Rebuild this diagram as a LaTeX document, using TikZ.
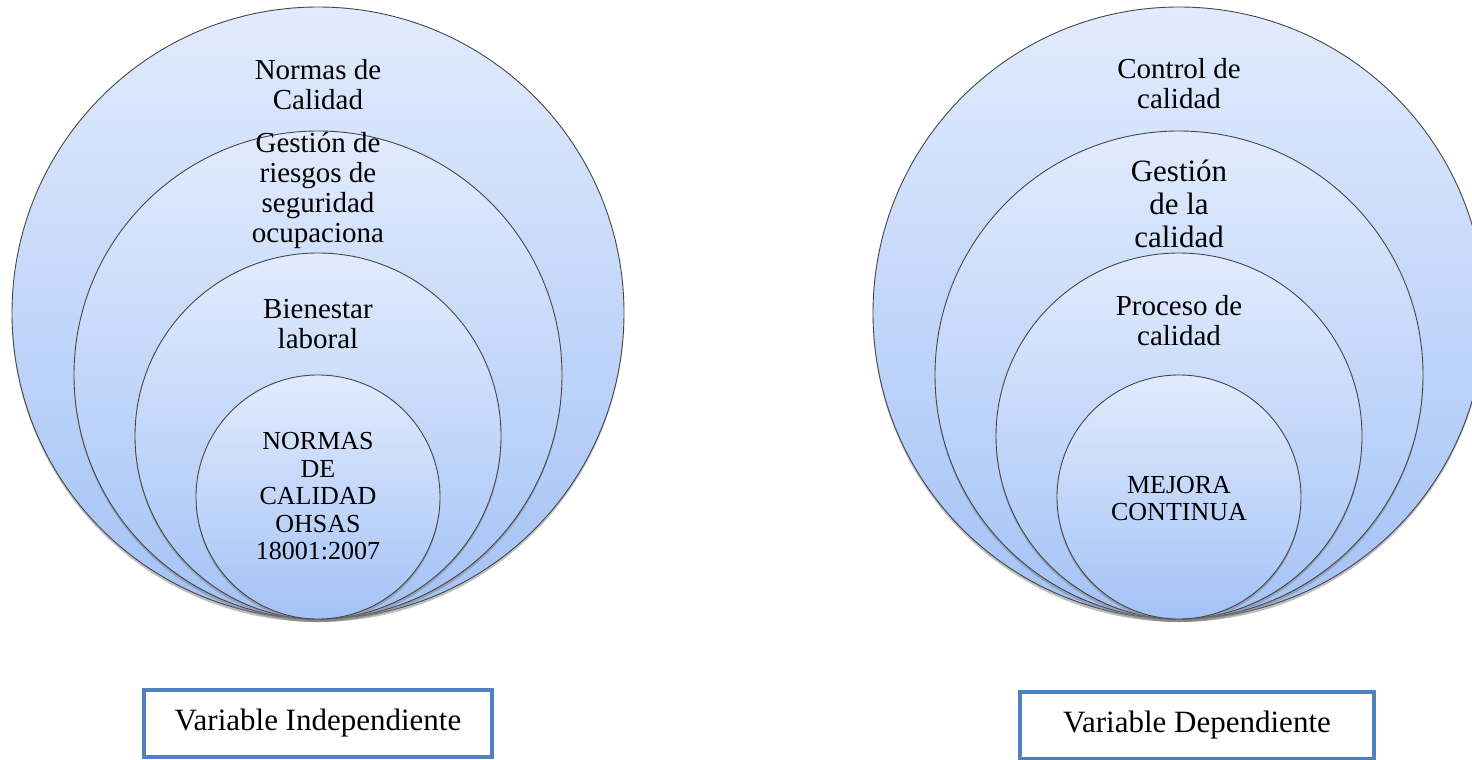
\documentclass[tikz,border=0pt]{standalone}
\usepackage{fontspec}
\setmainfont{Liberation Serif}
\usetikzlibrary{shadows}
\definecolor{gtop}{RGB}{225,235,253}
\definecolor{gbot}{RGB}{164,194,246}
\definecolor{boxblue}{RGB}{79,129,189}
\definecolor{ringline}{RGB}{70,70,70}
\tikzset{
  ring/.style={circle, inner sep=0pt, minimum size=#1, draw=ringline, line width=0.9pt,
    top color=gtop, bottom color=gbot,
    drop shadow={shadow xshift=0pt, shadow yshift=-3pt, opacity=0.5}},
  lbl/.style={align=center, inner sep=0pt, anchor=north, font=\fontsize{29}{30}\selectfont},
  lblbig/.style={lbl, font=\fontsize{31}{33}\selectfont},
  lblsmall/.style={lbl, font=\fontsize{26}{27.5}\selectfont},
  varbox/.style={draw=boxblue, line width=4pt, fill=white, inner sep=0pt,
    minimum height=67pt, font=\fontsize{31}{33}\selectfont}
}
\begin{document}
\begin{tikzpicture}[x=1pt,y=-1pt]
\useasboundingbox (0,0) rectangle (1472,760);
\begin{scope}
\clip (0,0) rectangle (1472,760);
% left set
\node[ring=612pt] (lo1) at (318,313) {};
\node[ring=488pt] (lo2) at (318,375) {};
\node[ring=366pt] (lo3) at (318,436) {};
\node[ring=244pt] (lo4) at (318,497) {};
% right set
\node[ring=612pt] (ro1) at (1179,313) {};
\node[ring=488pt] (ro2) at (1179,375) {};
\node[ring=366pt] (ro3) at (1179,436) {};
\node[ring=244pt] (ro4) at (1179,497) {};
\end{scope}
% left labels
\node[lbl] (l1) at (318,58) {\strut Normas de\\Calidad};
\node[lbl] (l2) at (318,131) {\strut Gestión de\\riesgos de\\seguridad\\ocupaciona};
\node[lbl] (l3) at (318,297) {\strut Bienestar\\laboral};
\node[lblsmall] (l4) at (318,430.5) {\strut NORMAS\\DE\\CALIDAD\\OHSAS\\18001:2007};
% right labels
\node[lbl] (r1) at (1179,57) {\strut Control de\\calidad};
\node[lblbig] (r2) at (1179,158) {\strut Gestión\\de la\\calidad};
\node[lbl] (r3) at (1179,294) {\strut Proceso de\\calidad};
\node[lblsmall] (r4) at (1179,474) {\strut MEJORA\\CONTINUA};
% variable boxes
\node[varbox, minimum width=348pt] (vi) at (318,723) {Variable Independiente};
\node[varbox, minimum width=354pt] (vd) at (1197,725.5) {Variable Dependiente};
\end{tikzpicture}
\end{document}
